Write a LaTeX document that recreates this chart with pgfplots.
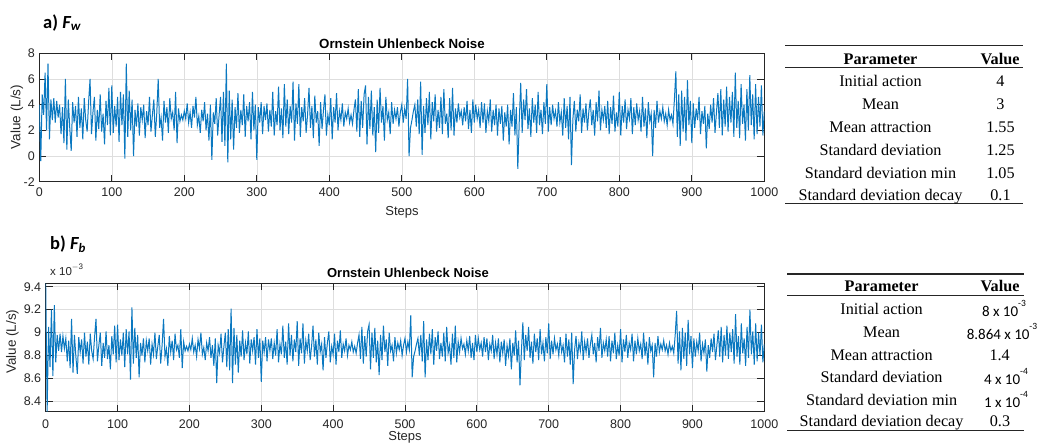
\documentclass[border=0pt]{standalone}
\usepackage{pgfplots}
\pgfplotsset{compat=1.18}
\usepackage{fontspec}
\setmainfont{Liberation Sans}
\newfontfamily\serifT{Liberation Serif}
\newfontfamily\calib{Carlito}
\definecolor{mblue}{RGB}{10,120,192}
\definecolor{axgray}{RGB}{38,38,38}
\begin{document}
\begin{tikzpicture}
\useasboundingbox (0pt,0pt) rectangle (1041pt,-447pt);
\pgfplotsset{
 ouaxis/.style={scale only axis, xmin=0, xmax=1000, xtick={0,100,...,1000},
  grid=major, major grid style={draw=black!13, line width=0.6pt},
  axis line style={draw=axgray, line width=0.8pt},
  tick style={draw=axgray, line width=0.8pt},
  major tick length=7pt, tick align=inside,
  /pgf/number format/assume math mode=true, /pgf/number format/1000 sep={},
  ticklabel style={font=\fontsize{12.5}{14}\selectfont, text=axgray},
  xticklabel style={yshift=-3pt}, yticklabel style={xshift=-1pt}}
}
% ---------- a) F_w ----------
\begin{axis}[ouaxis, at={(39.3pt,-181.7pt)}, anchor=south west, width=725pt, height=128.4pt,
  ymin=-2, ymax=8, ytick={-2,0,2,4,6,8}]
\addplot[mblue, line width=1.0pt] table[header=false, row sep=\\, x expr=\coordindex*2, y index=0] {
4.0\\ -0.4\\ 4.8\\ 3.2\\ 6.5\\ 2.0\\ 7.2\\ 1.3\\ 4.4\\ 2.8\\ 4.5\\ 2.6\\ 4.3\\ 3.0\\ 4.0\\ 1.7\\ 3.8\\ 1.0\\ 6.0\\ 0.5\\ 4.4\\ 2.2\\ 0.4\\ 4.2\\ 2.6\\
3.9\\ 1.5\\ 4.6\\ 2.2\\ 3.7\\ 1.3\\ 4.5\\ 2.8\\ 1.9\\ 4.2\\ 6.0\\ 1.7\\ 3.4\\ 4.6\\ 1.2\\ 3.6\\ 2.1\\ 4.8\\ 1.9\\ 3.3\\ 0.9\\ 4.3\\ 2.4\\ 5.3\\ 1.6\\
5.5\\ 1.8\\ 3.9\\ 2.3\\ 4.6\\ 1.1\\ 5.0\\ 2.4\\ 4.8\\ -0.2\\ 7.2\\ 1.5\\ 5.1\\ 2.0\\ 4.4\\ 0.0\\ 3.6\\ 2.3\\ 4.1\\ 1.6\\ 3.8\\ 2.8\\ 4.0\\ 1.4\\ 3.5\\
2.4\\ 4.6\\ 1.9\\ 3.2\\ 4.4\\ 1.5\\ 3.3\\ 6.0\\ 2.2\\ 3.0\\ 1.2\\ 4.3\\ 2.6\\ 3.8\\ 1.8\\ 4.5\\ 2.9\\ 3.4\\ 2.0\\ 5.0\\ 1.0\\ 3.7\\ 2.7\\ 3.2\\ 2.8\\
3.5\\ 2.9\\ 4.1\\ 2.6\\ 3.4\\ 2.2\\ 3.9\\ 3.0\\ 4.6\\ 2.4\\ 3.1\\ 1.8\\ 3.6\\ 2.7\\ 4.2\\ 2.0\\ 3.3\\ 1.2\\ 4.0\\ -0.3\\ 3.4\\ 2.5\\ 4.5\\ 1.6\\ 3.2\\
4.6\\ 1.1\\ 5.0\\ 0.8\\ 7.2\\ -0.5\\ 5.1\\ 1.3\\ 4.4\\ 0.5\\ 3.8\\ 2.2\\ 4.9\\ 1.8\\ 3.6\\ 2.4\\ 4.8\\ 1.5\\ 3.9\\ 2.7\\ 4.2\\ 1.3\\ 5.0\\ 2.0\\ 4.0\\
-0.3\\ 3.8\\ 2.6\\ 4.2\\ 1.7\\ 3.9\\ 2.8\\ 4.1\\ 1.9\\ 3.6\\ 2.3\\ 5.0\\ 1.6\\ 3.5\\ 2.4\\ 5.4\\ 2.0\\ 3.7\\ 1.4\\ 5.6\\ 2.3\\ 4.4\\ 1.7\\ 3.9\\ 2.6\\
5.8\\ 1.2\\ 4.1\\ 2.5\\ 5.6\\ 1.5\\ 3.8\\ 2.7\\ 4.5\\ 1.8\\ 3.2\\ 5.3\\ 2.2\\ 3.9\\ 1.4\\ 4.7\\ 2.6\\ 3.5\\ 0.8\\ 4.2\\ 2.1\\ 3.6\\ 4.8\\ 1.6\\ 3.2\\
2.4\\ 4.5\\ 1.3\\ 3.8\\ 2.6\\ 4.9\\ 2.0\\ 3.5\\ 2.8\\ 4.1\\ 2.3\\ 3.4\\ 2.9\\ 3.7\\ 2.6\\ 3.2\\ 2.5\\ 3.6\\ 4.4\\ 1.9\\ 5.2\\ 1.5\\ 4.3\\ 2.2\\ 4.8\\
5.5\\ 0.9\\ 4.6\\ 2.1\\ 5.1\\ 1.6\\ 3.8\\ 0.3\\ 4.4\\ 1.8\\ 5.3\\ 2.6\\ 3.9\\ 1.2\\ 4.6\\ 2.8\\ 3.4\\ 1.7\\ 4.2\\ 2.5\\ 3.6\\ 2.9\\ 3.8\\ 2.3\\ 3.4\\
4.0\\ 2.6\\ 3.7\\ 2.9\\ 6.0\\ 0.0\\ 2.2\\ 2.8\\ 3.5\\ 4.0\\ 2.3\\ 4.4\\ 1.7\\ 5.8\\ 0.1\\ 3.9\\ 1.8\\ 4.5\\ 2.4\\ 5.0\\ 1.3\\ 4.2\\ 2.7\\ 4.8\\ 1.9\\
3.6\\ 2.2\\ 4.6\\ 1.7\\ 5.2\\ 2.5\\ 3.3\\ 1.4\\ 4.5\\ 2.0\\ 5.3\\ 1.6\\ 3.7\\ 2.6\\ 4.1\\ 3.0\\ 3.5\\ 2.4\\ 3.8\\ 2.7\\ 4.3\\ 2.1\\ 3.6\\ 1.8\\ 4.4\\
2.6\\ 4.0\\ 2.9\\ 3.6\\ 2.2\\ 4.2\\ 2.6\\ 4.1\\ 1.8\\ 3.5\\ 2.7\\ 4.4\\ 1.9\\ 3.6\\ 2.4\\ 4.0\\ 1.6\\ 3.7\\ 2.5\\ 3.9\\ 1.2\\ 3.4\\ 2.3\\ 4.0\\ 0.9\\
3.6\\ 2.3\\ 4.9\\ 1.6\\ 3.8\\ -1.0\\ 2.7\\ 5.7\\ 1.8\\ 4.4\\ 2.8\\ 5.2\\ 2.1\\ 3.7\\ 1.5\\ 4.5\\ 2.6\\ 4.0\\ 1.8\\ 5.0\\ 2.4\\ 3.6\\ 1.7\\ 4.2\\ 2.5\\
5.6\\ 1.9\\ 3.8\\ 2.4\\ 4.0\\ 2.9\\ 3.5\\ 2.3\\ 4.2\\ 2.6\\ 3.4\\ 1.6\\ 4.5\\ 2.2\\ 3.9\\ 1.3\\ 4.6\\ -0.7\\ 2.9\\ 4.3\\ 1.9\\ 3.6\\ 2.7\\ 4.8\\ 1.8\\
3.7\\ 2.6\\ 4.1\\ 2.0\\ 3.5\\ 4.4\\ 2.4\\ 3.6\\ 1.6\\ 4.2\\ 2.7\\ 5.1\\ 2.0\\ 3.6\\ 2.8\\ 3.9\\ 2.2\\ 4.3\\ 1.7\\ 3.8\\ 2.5\\ 4.7\\ 1.9\\ 3.4\\ 2.3\\
5.0\\ 1.6\\ 3.9\\ 2.6\\ 4.4\\ 2.1\\ 3.6\\ 2.9\\ 4.5\\ 1.7\\ 3.8\\ 2.4\\ 4.1\\ 2.8\\ 3.5\\ 1.9\\ 4.6\\ 2.3\\ 3.7\\ 1.4\\ 4.2\\ 2.7\\ 3.3\\ 0.0\\ 3.6\\
2.2\\ 4.3\\ 2.6\\ 3.5\\ 2.9\\ 3.8\\ 2.7\\ 3.3\\ 2.4\\ 3.6\\ 2.8\\ 3.2\\ 2.5\\ 4.4\\ 6.6\\ 1.5\\ 4.8\\ 0.8\\ 5.1\\ 1.9\\ 4.6\\ 1.2\\ 5.9\\ 2.4\\ 4.3\\
1.0\\ 4.1\\ 2.2\\ 3.7\\ 2.8\\ 4.6\\ 1.7\\ 3.5\\ 2.5\\ 3.9\\ 0.6\\ 3.3\\ 2.1\\ 4.0\\ 2.6\\ 4.5\\ 1.8\\ 3.4\\ 4.9\\ 2.2\\ 5.2\\ 1.6\\ 4.4\\ 2.3\\ 5.4\\
1.9\\ 4.6\\ 2.6\\ 5.0\\ 1.5\\ 6.5\\ 2.2\\ 4.3\\ 1.4\\ 5.6\\ 2.5\\ 4.0\\ 1.2\\ 5.2\\ 2.0\\ 6.3\\ 2.4\\ 4.8\\ 1.3\\ 5.6\\ 1.7\\ 4.6\\ 2.3\\ 5.5\\ 1.6\\
3.5\\
};
\end{axis}
% ---------- b) F_b ----------
\begin{axis}[ouaxis, at={(45.7pt,-411.7pt)}, anchor=south west, width=718.6pt, height=128.4pt,
  ymin=8.31, ymax=9.43, ytick={8.4,8.6,8.8,9,9.2,9.4}, xticklabel style={yshift=-1.5pt}]
\addplot[mblue, line width=1.0pt] table[header=false, row sep=\\, x expr=\coordindex*2, y index=0] {
9.43\\ 8.31\\ 9.05\\ 8.70\\ 9.20\\ 8.62\\ 9.24\\ 8.74\\ 8.98\\ 8.84\\ 8.99\\ 8.83\\ 8.97\\ 8.86\\ 8.95\\ 8.75\\ 8.93\\ 8.69\\ 9.12\\ 8.65\\ 8.98\\ 8.79\\ 8.64\\ 8.96\\ 8.83\\
8.94\\ 8.73\\ 9.00\\ 8.79\\ 8.92\\ 8.72\\ 8.99\\ 8.84\\ 8.77\\ 8.96\\ 9.12\\ 8.75\\ 8.89\\ 9.00\\ 8.71\\ 8.91\\ 8.78\\ 9.01\\ 8.77\\ 8.89\\ 8.68\\ 8.97\\ 8.81\\ 9.06\\ 8.74\\
9.07\\ 8.76\\ 8.94\\ 8.80\\ 9.00\\ 8.70\\ 9.03\\ 8.81\\ 9.01\\ 8.59\\ 9.22\\ 8.73\\ 9.04\\ 8.78\\ 8.98\\ 8.61\\ 8.91\\ 8.80\\ 8.95\\ 8.74\\ 8.93\\ 8.84\\ 8.95\\ 8.72\\ 8.90\\
8.81\\ 9.00\\ 8.77\\ 8.88\\ 8.98\\ 8.73\\ 8.89\\ 9.12\\ 8.79\\ 8.86\\ 8.71\\ 8.97\\ 8.83\\ 8.93\\ 8.76\\ 8.99\\ 8.85\\ 8.89\\ 8.78\\ 9.03\\ 8.69\\ 8.92\\ 8.84\\ 8.88\\ 8.84\\
8.90\\ 8.85\\ 8.95\\ 8.83\\ 8.89\\ 8.79\\ 8.94\\ 8.86\\ 9.00\\ 8.81\\ 8.87\\ 8.76\\ 8.91\\ 8.84\\ 8.96\\ 8.78\\ 8.89\\ 8.71\\ 8.95\\ 8.56\\ 8.89\\ 8.82\\ 8.99\\ 8.74\\ 8.88\\
9.00\\ 8.70\\ 9.03\\ 8.67\\ 9.21\\ 8.56\\ 9.04\\ 8.72\\ 8.98\\ 8.65\\ 8.93\\ 8.79\\ 9.02\\ 8.76\\ 8.91\\ 8.81\\ 9.01\\ 8.73\\ 8.94\\ 8.84\\ 8.96\\ 8.72\\ 9.03\\ 8.78\\ 8.95\\
8.57\\ 8.93\\ 8.83\\ 8.96\\ 8.75\\ 8.94\\ 8.84\\ 8.95\\ 8.77\\ 8.91\\ 8.80\\ 9.03\\ 8.74\\ 8.90\\ 8.81\\ 9.06\\ 8.78\\ 8.92\\ 8.72\\ 9.08\\ 8.80\\ 8.98\\ 8.75\\ 8.94\\ 8.83\\
9.10\\ 8.71\\ 8.95\\ 8.82\\ 9.08\\ 8.73\\ 8.93\\ 8.84\\ 8.99\\ 8.76\\ 8.88\\ 9.06\\ 8.79\\ 8.94\\ 8.72\\ 9.00\\ 8.83\\ 8.90\\ 8.67\\ 8.96\\ 8.78\\ 8.91\\ 9.01\\ 8.74\\ 8.88\\
8.81\\ 8.99\\ 8.72\\ 8.93\\ 8.83\\ 9.02\\ 8.78\\ 8.90\\ 8.84\\ 8.95\\ 8.80\\ 8.89\\ 8.85\\ 8.92\\ 8.83\\ 8.88\\ 8.82\\ 8.91\\ 8.98\\ 8.77\\ 9.05\\ 8.73\\ 8.97\\ 8.79\\ 9.01\\
9.07\\ 8.68\\ 9.00\\ 8.78\\ 9.04\\ 8.74\\ 8.93\\ 8.63\\ 8.98\\ 8.76\\ 9.06\\ 8.83\\ 8.94\\ 8.71\\ 9.00\\ 8.84\\ 8.89\\ 8.75\\ 8.96\\ 8.82\\ 8.91\\ 8.85\\ 8.93\\ 8.80\\ 8.89\\
8.95\\ 8.83\\ 8.92\\ 8.85\\ 9.15\\ 8.61\\ 8.79\\ 8.84\\ 8.90\\ 8.95\\ 8.80\\ 8.98\\ 8.75\\ 9.10\\ 8.61\\ 8.94\\ 8.76\\ 8.99\\ 8.81\\ 9.03\\ 8.72\\ 8.96\\ 8.84\\ 9.01\\ 8.77\\
8.91\\ 8.79\\ 9.00\\ 8.75\\ 9.05\\ 8.82\\ 8.89\\ 8.72\\ 8.99\\ 8.78\\ 9.06\\ 8.74\\ 8.92\\ 8.83\\ 8.95\\ 8.86\\ 8.90\\ 8.81\\ 8.93\\ 8.84\\ 8.97\\ 8.78\\ 8.91\\ 8.76\\ 8.98\\
8.83\\ 8.95\\ 8.85\\ 8.91\\ 8.79\\ 8.96\\ 8.83\\ 8.95\\ 8.76\\ 8.90\\ 8.84\\ 8.98\\ 8.77\\ 8.91\\ 8.81\\ 8.95\\ 8.74\\ 8.92\\ 8.82\\ 8.94\\ 8.71\\ 8.89\\ 8.80\\ 8.95\\ 8.68\\
8.91\\ 8.80\\ 9.02\\ 8.74\\ 8.93\\ 8.54\\ 8.84\\ 9.09\\ 8.76\\ 8.98\\ 8.84\\ 9.05\\ 8.78\\ 8.92\\ 8.73\\ 8.99\\ 8.83\\ 8.95\\ 8.76\\ 9.03\\ 8.81\\ 8.91\\ 8.75\\ 8.96\\ 8.82\\
9.08\\ 8.77\\ 8.93\\ 8.81\\ 8.95\\ 8.85\\ 8.90\\ 8.80\\ 8.96\\ 8.83\\ 8.89\\ 8.74\\ 8.99\\ 8.79\\ 8.94\\ 8.72\\ 9.00\\ 8.55\\ 8.85\\ 8.97\\ 8.77\\ 8.91\\ 8.84\\ 9.01\\ 8.76\\
8.92\\ 8.83\\ 8.95\\ 8.78\\ 8.90\\ 8.98\\ 8.81\\ 8.91\\ 8.74\\ 8.96\\ 8.84\\ 9.04\\ 8.78\\ 8.91\\ 8.84\\ 8.94\\ 8.79\\ 8.97\\ 8.75\\ 8.93\\ 8.82\\ 9.00\\ 8.77\\ 8.89\\ 8.80\\
9.03\\ 8.74\\ 8.94\\ 8.83\\ 8.98\\ 8.78\\ 8.91\\ 8.85\\ 8.99\\ 8.75\\ 8.93\\ 8.81\\ 8.95\\ 8.84\\ 8.90\\ 8.77\\ 9.00\\ 8.80\\ 8.92\\ 8.72\\ 8.96\\ 8.84\\ 8.89\\ 8.61\\ 8.91\\
8.79\\ 8.97\\ 8.83\\ 8.90\\ 8.85\\ 8.93\\ 8.84\\ 8.89\\ 8.81\\ 8.91\\ 8.84\\ 8.88\\ 8.82\\ 8.98\\ 9.19\\ 8.73\\ 9.01\\ 8.67\\ 9.04\\ 8.77\\ 9.00\\ 8.71\\ 9.11\\ 8.81\\ 8.97\\
8.69\\ 8.95\\ 8.79\\ 8.92\\ 8.84\\ 9.00\\ 8.75\\ 8.90\\ 8.82\\ 8.94\\ 8.66\\ 8.89\\ 8.78\\ 8.95\\ 8.83\\ 8.99\\ 8.76\\ 8.89\\ 9.02\\ 8.79\\ 9.05\\ 8.74\\ 8.98\\ 8.80\\ 9.06\\
8.77\\ 9.00\\ 8.83\\ 9.03\\ 8.73\\ 9.16\\ 8.79\\ 8.97\\ 8.72\\ 9.08\\ 8.82\\ 8.95\\ 8.71\\ 9.05\\ 8.78\\ 9.20\\ 8.81\\ 9.01\\ 8.72\\ 9.08\\ 8.75\\ 9.00\\ 8.80\\ 9.07\\ 8.74\\
8.90\\
};
\end{axis}
% ---------- plot texts ----------
\node[font=\fontsize{13.3}{15}\selectfont\bfseries] at (402pt,-44pt) {Ornstein Uhlenbeck Noise};
\node[font=\fontsize{13}{15}\selectfont\bfseries] at (408pt,-272.5pt) {Ornstein Uhlenbeck Noise};
\node[font=\fontsize{13}{15}\selectfont, text=axgray, anchor=base] at (402pt,-215pt) {Steps};
\node[font=\fontsize{13}{15}\selectfont, text=axgray, anchor=base, inner sep=0pt] at (405pt,-440pt) {Steps};
\node[font=\fontsize{13.5}{15}\selectfont, text=axgray, rotate=90] at (17pt,-117pt) {Value (L/s)};
\node[font=\fontsize{13.5}{15}\selectfont, text=axgray, rotate=90] at (12.5pt,-341.7pt) {Value (L/s)};
\node[font=\fontsize{11.5}{13}\selectfont, text=axgray, anchor=base west, inner sep=0pt] at (50pt,-275pt) {x 10\raisebox{0.5em}{\fontsize{8}{9}\selectfont $-$3}};
\node[font=\calib\fontsize{18.5}{20}\selectfont\bfseries, anchor=base west, inner sep=0pt] at (43pt,-28pt) {a) \textit{F\textsubscript{w}}};
\node[font=\calib\fontsize{18.5}{20}\selectfont\bfseries, anchor=base west, inner sep=0pt] at (50pt,-249pt) {b) \textit{F\textsubscript{b}}};
% ---------- table a ----------
\draw[line width=1.4pt, axgray] (785pt,-45.7pt) -- (1023.3pt,-45.7pt);
\draw[line width=0.8pt, axgray] (785pt,-67.7pt) -- (1023.3pt,-67.7pt);
\draw[line width=1.4pt, axgray] (785pt,-203.3pt) -- (1023.3pt,-203.3pt);
\begin{scope}[every node/.style={font=\serifT\fontsize{16.2}{18}\selectfont, anchor=mid, inner sep=0pt}]
\node[font=\serifT\fontsize{16.2}{18}\selectfont\bfseries] at (880.5pt,-61.5pt) {Parameter};
\node[font=\serifT\fontsize{16.2}{18}\selectfont\bfseries] at (1000pt,-61.5pt) {Value};
\node at (880.5pt,-84.2pt) {Initial action};          \node at (1000.5pt,-84.2pt) {4};
\node at (880.5pt,-106.8pt) {Mean};                   \node at (1000.5pt,-106.8pt) {3};
\node at (880.5pt,-130.2pt) {Mean attraction};        \node at (1000.5pt,-130.2pt) {1.55};
\node at (880.5pt,-152.8pt) {Standard deviation};     \node at (1000.5pt,-152.8pt) {1.25};
\node at (880.5pt,-176.2pt) {Standard deviation min}; \node at (1000.5pt,-176.2pt) {1.05};
\node at (880.5pt,-197.8pt) {Standard deviation decay}; \node at (1000.5pt,-197.8pt) {0.1};
\end{scope}
% ---------- table b ----------
\draw[line width=1.4pt, axgray] (787pt,-274pt) -- (1024pt,-274pt);
\draw[line width=0.8pt, axgray] (787pt,-295.7pt) -- (1024pt,-295.7pt);
\draw[line width=1.4pt, axgray] (787pt,-430.7pt) -- (1024pt,-430.7pt);
\begin{scope}[every node/.style={font=\serifT\fontsize{16.2}{18}\selectfont, anchor=mid, inner sep=0pt}]
\node[font=\serifT\fontsize{16.2}{18}\selectfont\bfseries] at (881.6pt,-289.2pt) {Parameter};
\node[font=\serifT\fontsize{16.2}{18}\selectfont\bfseries] at (1000pt,-289.2pt) {Value};
\node at (881.6pt,-311.8pt) {Initial action};
\node at (881.6pt,-334.5pt) {Mean};
\node at (881.6pt,-357.5pt) {Mean attraction};
\node at (881.6pt,-380.2pt) {Standard deviation};
\node at (881.6pt,-402.8pt) {Standard deviation min};
\node at (881.6pt,-424.2pt) {Standard deviation decay};
\node at (999.7pt,-357.5pt) {1.4};
\node at (1000pt,-424.2pt) {0.3};
\end{scope}
\begin{scope}[every node/.style={font=\calib\fontsize{15}{17}\selectfont, anchor=base, inner sep=0pt}]
\node at (1004pt,-316.5pt) {8 x 10\raisebox{0.65em}{\fontsize{9.5}{10}\selectfont -3}};
\node at (1002pt,-339pt) {8.864 x 10\raisebox{0.65em}{\fontsize{9.5}{10}\selectfont -3}};
\node at (1006pt,-384.5pt) {4 x 10\raisebox{0.65em}{\fontsize{9.5}{10}\selectfont -4}};
\node at (1006pt,-407pt) {1 x 10\raisebox{0.65em}{\fontsize{9.5}{10}\selectfont -4}};
\end{scope}
\end{tikzpicture}
\end{document}
